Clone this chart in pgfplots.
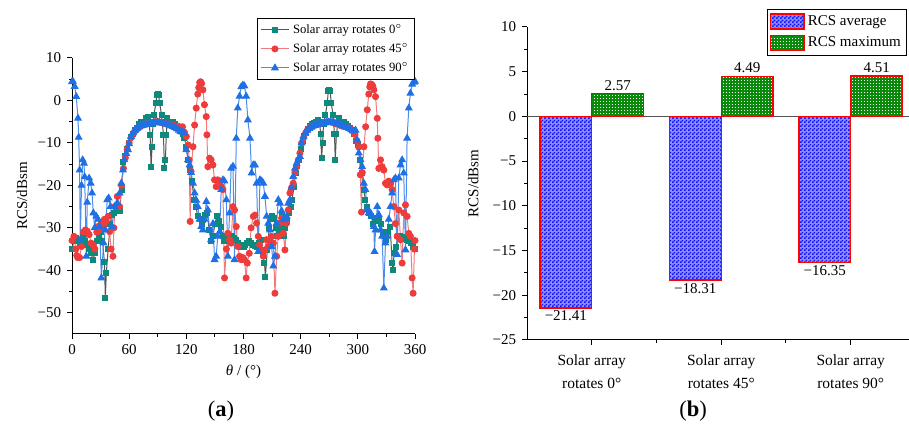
\documentclass[border=0pt]{standalone}
\usepackage{fontspec}
\setmainfont{Liberation Serif}
\usepackage{pgfplots}
\pgfplotsset{compat=1.18}
\usetikzlibrary{patterns.meta}
\definecolor{cteal}{HTML}{0E8A7D}
\definecolor{cgray}{HTML}{555555}
\definecolor{cred}{HTML}{EE3B3B}
\definecolor{credl}{HTML}{F27A7A}
\definecolor{cblue}{HTML}{1F6FE5}
\definecolor{cbluel}{HTML}{4D8CEB}
\definecolor{barblue}{HTML}{1010FF}
\definecolor{barbluebg}{HTML}{9090FF}
\definecolor{bargreen}{HTML}{0A8A0A}
\pgfdeclarepattern{
  name=checker,
  type=uncolored,
  bottom left={\pgfpoint{0pt}{0pt}},
  top right={\pgfpoint{2.4pt}{2.4pt}},
  tile size={\pgfpoint{2.4pt}{2.4pt}},
  code={
    \pgfpathrectangle{\pgfpoint{0pt}{0pt}}{\pgfpoint{1.2pt}{1.2pt}}
    \pgfpathrectangle{\pgfpoint{1.2pt}{1.2pt}}{\pgfpoint{1.2pt}{1.2pt}}
    \pgfusepath{fill}
  }
}
\pgfdeclarepattern{
  name=sqdots,
  type=uncolored,
  bottom left={\pgfpoint{0pt}{0pt}},
  top right={\pgfpoint{1.8pt}{1.8pt}},
  tile size={\pgfpoint{1.8pt}{1.8pt}},
  code={
    \pgfpathrectangle{\pgfpoint{0pt}{0pt}}{\pgfpoint{0.7pt}{0.7pt}}
    \pgfusepath{fill}
  }
}
\pgfplotsset{rectlegend/.style={legend image code/.code={\draw[##1] (0pt,-4.5pt) rectangle (20pt,4.5pt);}}}
\begin{document}
\begin{tikzpicture}
\useasboundingbox (0,0) rectangle (545.4pt,261pt);
% ---------------- (a) ----------------
\begin{axis}[
  at={(43.2pt,60.6pt)}, anchor=south west,
  scale only axis, width=205.8pt, height=165.6pt,
  xmin=0, xmax=360, ymin=-55, ymax=10,
  xtick={0,60,...,360}, minor x tick num=1,
  ytick={-50,-40,...,10}, yticklabels={−50,−40,−30,−20,−10,0,10},
  minor y tick num=1,
  axis x line*=bottom, axis y line*=left,
  axis line style={line width=0.6pt},
  tick style={line width=0.6pt, black},
  tick align=outside, major tick length=3pt, minor tick length=1.8pt,
  tick label style={font=\fontsize{9}{10}\selectfont},
  /pgf/number format/assume math mode=true,
  xlabel={\textit{θ} / (°)}, ylabel={RCS/dBsm},
  label style={font=\fontsize{9}{10}\selectfont},
  xlabel style={at={(axis description cs:0.5,-0.138)}, anchor=center},
  ylabel style={at={(axis description cs:-0.146,0.5)}, anchor=center},
  legend style={at={(1,1.145)}, anchor=north east,
    font=\fontsize{7.6}{9}\selectfont, draw=black, line width=0.6pt,
    inner sep=1.5pt, row sep=0.6pt},
  legend cell align=left,
  clip=false,
]
\addplot[cgray, line width=0.6pt, mark=square*, mark size=1.5pt,
  mark options={cteal, fill=cteal}] table {
0 -35
2 -33
4 -32.5
6 -33
8 -33.5
10 -32.8
12 -32
14 -33
16 -34
18 -35
20 -36
22 -37.5
24 -36
26 -33
28 -32
30 -31
32 -33
34 -38
35 -46.5
36 -40.7
38 -35
40 -29
42 -27
44 -26.5
46 -25.8
48 -26
50 -26
52 -21
54 -14.5
56 -13
58 -11.5
60 -10
62 -8.5
64 -7.8
66 -7
68 -6.5
70 -5.5
72 -5
74 -5.8
76 -5.5
78 -4.2
80 -4
81 -5
82 -8.1
83 -15.7
84 -10.9
85 -5.5
86 -3.4
88 -0.7
89 1.2
90 1.5
91 1.3
92 -0.7
94 -3.4
96 -8.1
97 -16
98 -14
99 -8.1
100 -4.2
102 -5
104 -5.5
106 -5
108 -5.5
110 -6.2
112 -6.5
114 -7.2
116 -8
118 -8.9
120 -10.9
122 -14
124 -16.4
126 -19
128 -23.4
130 -25
132 -27.3
134 -28
136 -29
138 -28.1
140 -27
142 -26.5
144 -30.5
146 -33.2
148 -32
150 -29
152 -27.3
154 -28.5
156 -29.7
158 -32
160 -33
162 -33.2
164 -32.5
166 -32
168 -32
170 -32.3
172 -32.8
174 -33.5
176 -34
178 -34.4
180 -34.4
182 -34
184 -33.6
186 -33.2
188 -33.5
190 -34
192 -34.2
194 -34.4
196 -33.5
198 -32.8
200 -36
202 -38.3
203 -41.5
205 -35.2
207 -30
208.5 -28
210 -27.3
212 -27.7
214 -30
215.5 -32
217 -30.5
219 -29
220.7 -27.3
222.5 -32
224 -30
226 -28.1
228 -26.5
229.5 -25
231 -23.4
233 -20.3
234.7 -17.1
236 -15.5
238 -14
240 -11.5
242 -9.5
244 -8.3
246 -7.6
248 -6.8
250 -6
252 -5.5
254 -5.2
256 -5
258 -4.5
259 -5
260 -5.5
261 -8
262 -13.6
263 -10
264 -5.5
266 -3.4
268 -0.5
269 2.2
270 2.5
271 2.2
272 -0.5
274 -3.4
275.5 -8
276.3 -14
277.5 -8
279.8 -4.2
282 -5
284 -5.3
286 -5
288 -5.5
290 -6
292 -6.5
294 -7
296 -8
298 -9.5
300 -10.5
302 -14
304 -17
306 -21
308 -23.4
310 -25
312 -26.5
314 -27.3
316 -29
318 -28.5
320 -27.7
322 -28
324 -29
326 -31
328 -32
330 -32.8
332 -31
334 -29.7
336 -38.3
337 -39.9
338 -36
340 -34.4
342 -32
344 -32
346 -32.2
348 -32.4
350 -32.6
352 -32.8
354 -33.2
356 -33.6
358 -34.4
360 -35
};
\addlegendentry{Solar array rotates 0$^{\circ}$}
\addplot[credl, line width=0.6pt, mark=*, mark size=1.8pt,
  mark options={cred, fill=cred}] table {
0 -33
2 -32
4 -35
5 -36.5
6 -37
8 -37
10 -34.4
12 -31
14 -30.5
16 -30.8
18 -31.6
20 -33.6
22 -34
24 -35
26 -31
27 -29.7
29 -30.5
31 -29
33 -29.5
34 -28
36 -28.5
38 -27.3
39.5 -30.9
41 -35
43 -36.7
44 -30
45 -25
47.5 -22.6
50 -25
52 -20
54 -16
56 -13.5
58 -11.5
60 -10
62 -8.8
64 -8
66 -7.2
68 -6.8
70 -6.3
72 -6
74 -5.8
76 -5.6
78 -5.5
80 -5.4
82 -5.3
84 -5.2
86 -5.1
88 -5
90 -5
92 -5.1
94 -5.2
96 -5.3
98 -5.4
100 -5.5
102 -5.6
104 -5.8
106 -5.8
108 -6
110 -6.2
112 -6.1
114 -6.4
116 -6.2
118 -7.5
120 -8.5
122 -10.5
123 -14
124 -28.5
125 -16.7
127 -10.9
128.7 -5.8
130.4 -1.8
132 1.5
133 3
134 4.2
135 4.4
136 4
137.4 2.5
139 -1
140.9 -3.8
141.6 -8.1
142.6 -15.6
144.4 -13.6
146 -14
147.9 -15.2
149.6 -18.7
151.3 -20.3
153 -18.7
154.9 -19
156.6 -20.3
158.4 -21
160.1 -41.8
162 -35
163.6 -31.3
165.4 -32.8
167 -33.6
168.9 -25
170.6 -25.8
172.4 -29.7
174 -34.4
175.9 -36.7
177.6 -37.5
179.4 -37
181 -37.5
182.8 -41.8
184 -38.3
186 -36
188 -30
190.3 -27.3
192 -27
193.8 -28.9
195.5 -32
197 -34
199 -35.2
200.8 -36.7
202.5 -35.2
204 -32.8
206 -34.4
208 -33
209.5 -32
211.3 -33.6
213 -45.4
214.8 -36.7
216.5 -32
218.3 -28.9
220 -27.7
221.8 -31.3
223.5 -35.2
225.3 -28.9
227 -25.8
228.7 -21.8
230.5 -20.5
232.2 -19.5
234 -17
235.7 -15.6
237.5 -14
239.2 -12.4
241 -10
243 -8.8
245 -7.8
247 -7
249 -6.5
251 -6.2
253 -6
255 -5.8
257 -5.6
259 -5.5
261 -5.4
263 -5.3
265 -5.2
267 -5.1
269 -5
271 -5
273 -5.1
275 -5.3
277 -5.5
279 -5.6
281 -5.8
283 -6
285 -6.1
287 -6.2
289 -6.3
291 -6.5
293 -6.8
295 -7.2
297 -8
299 -9.5
301 -11
302.6 -17.5
303.8 -26.3
304.7 -17
306.4 -10.9
308.2 -6.2
309.9 -2.2
311.5 1.5
312.5 3.2
313.4 3.9
314.5 3.8
315.7 3.4
316.9 2.5
318.6 0.9
320.4 -4.2
321 -8.9
322 -16
323.8 -14
325.5 -15.6
327.3 -16.4
329 -19.5
330.8 -19.9
332.5 -19
334.3 -19.5
336 -21
337.8 -25
339.5 -29
341.2 -32
343 -25.8
344.8 -32.8
346.5 -38.3
348.2 -26.5
350 -24.6
351.7 -27.3
353.5 -31.3
355.2 -32
357 -41.8
358 -45.4
359.4 -35
360 -33
};
\addlegendentry{Solar array rotates 45$^{\circ}$}
\addplot[cbluel, line width=0.6pt, mark=triangle*, mark size=2.2pt,
  mark options={cblue, fill=cblue}] table {
0 4.4
1 4.5
2.8 3.3
4.5 0.9
6.3 -4.2
7 -8.7
8 -16.4
8.7 -32.8
10 -20
11.2 -14
12.6 -14.8
13.3 -18
15 -36.7
16 -24
18 -18.3
19.6 -19.5
21 -21.8
22.4 -26.5
23.8 -30
25.5 -27.3
27.3 -28
29 -29.7
30.8 -41.8
33.2 -33.6
35 -30.5
37 -23.4
38.5 -23
40.5 -25
42 -29.7
44.7 -25
47.5 -24.2
50 -21.8
51.7 -19.5
53.5 -16.4
55 -14
57 -12.5
58.7 -11.6
60 -10.2
62 -8.5
64 -7.6
66 -7
68 -6.6
70 -6.3
72 -6
74 -5.9
76 -5.8
78 -5.7
80 -5.6
82 -5.5
84 -5.4
86 -5.3
88 -5.2
90 -5.1
92 -5.2
94 -5.3
96 -5.4
98 -5.5
100 -5.6
102 -5.8
104 -6
106 -6.2
108 -6.4
110 -6.7
112 -7
114 -7.3
116 -7.5
118 -7.7
120 -11.6
121.7 -14
123.4 -15.2
125 -17
127 -19.5
128.7 -21.8
130.4 -23.5
132 -25
133.9 -28
135.7 -29.7
137.4 -30.5
139 -28
141 -23.8
142.6 -25.8
144.4 -30.5
146 -32.8
148 -29
149.6 -37.5
151.3 -36.7
153 -32
155 -30.9
156.6 -21
158.4 -18.7
160 -19
162 -23.4
163.6 -36.7
165.4 -26.5
167 -16
169 -15.5
170.6 -37.5
172.4 -8.9
174 -1.8
175.9 1
177.6 3.2
179.4 3.6
181 3.4
182.8 1
184.6 -4.6
186.8 -8.9
188.5 -17.1
190.3 -15.2
192 -15.2
193.8 -19.5
195.5 -35.6
197.3 -18.7
199 -19
200.8 -19.5
202.5 -22.6
204.3 -27.3
206 -28.9
207.8 -30.5
209.5 -34.4
211.3 -39
213 -36.7
214.8 -28.9
216.5 -23.4
218.3 -24.2
220 -26
221.8 -28.1
223.5 -27.8
225.3 -27.3
227 -24.2
228.7 -23.4
230.5 -20.5
232.2 -17.9
234 -16
235.7 -14.8
237.5 -14
239.2 -13.2
241 -10
243 -8.5
245 -7.6
247 -7
249 -6.6
251 -6.3
253 -6
255 -5.9
257 -5.8
259 -5.6
261 -5.5
263 -5.4
265 -5.3
267 -5.2
269 -5.1
271 -5.1
273 -5.2
275 -5.3
277 -5.4
279 -5.5
281 -5.6
283 -5.8
285 -6
287 -6.2
289 -6.4
291 -6.6
293 -6.9
295 -7.2
297.6 -7
299.3 -9.3
301 -12.4
302.8 -14
304.5 -15.6
306.3 -19.5
308 -21
309.8 -25.8
311.5 -26.5
313.3 -26.5
315 -27.3
316.8 -29.7
317.5 -35.6
318.6 -30.5
320.4 -25
322 -26.9
323.8 -30.5
325.5 -32
327.3 -44.2
329 -33.6
330.8 -32
332.5 -28
334.3 -25
336 -21.8
337.8 -18.7
339.5 -18.3
341.2 -36.3
343 -18.3
344.8 -15.2
346.5 -14
348.2 -17.1
350 -35.2
351.7 -8.9
353.5 -1.8
355.2 1.7
357 3.8
358.7 4.3
360 4.5
};
\addlegendentry{Solar array rotates 90$^{\circ}$}
\end{axis}
% ---------------- (b) ----------------
\begin{axis}[
  at={(316.2pt,57pt)}, anchor=south west,
  scale only axis, width=229.2pt, height=187.8pt,
  ybar=0pt, bar width=0.4,
  xmin=0.5, xmax=3.45, ymin=-25, ymax=10,
  xtick={1,2,3},
  xticklabels={{Solar array\\rotates 0°},{Solar array\\rotates 45°},{Solar array\\rotates 90°}},
  minor xtick={1.5,2.5},
  ytick={-25,-20,...,10}, yticklabels={−25,−20,−15,−10,−5,0,5,10},
  minor y tick num=1,
  axis x line*=bottom, axis y line*=left,
  axis line style={line width=0.6pt},
  tick style={line width=0.6pt, black},
  tick align=outside, major tick length=3pt, minor tick length=1.8pt,
  tick label style={font=\fontsize{9}{10}\selectfont},
  xticklabel style={align=center, font=\fontsize{9.3}{13.8}\selectfont, yshift=-2.2pt},
  ylabel={RCS/dBsm},
  label style={font=\fontsize{9}{10}\selectfont},
  ylabel style={at={(axis description cs:-0.141,0.5)}, anchor=center},
  extra y ticks={0}, extra y tick labels={},
  extra y tick style={grid=major, major grid style={cgray, line width=0.6pt}, major tick length=0pt},
  point meta=explicit symbolic,
  nodes near coords,
  nodes near coords style={font=\fontsize{9}{10}\selectfont, text=black, inner sep=1.5pt},
  legend style={at={(0.995,1.0575)}, anchor=north east,
    font=\fontsize{9}{11}\selectfont, draw=black, line width=0.6pt,
    inner sep=1.5pt, row sep=1.5pt},
  legend cell align=left,
]
\addplot[draw=red, line width=0.8pt, fill=barbluebg,
  postaction={pattern=checker, pattern color=barblue}, rectlegend,
  every node near coord/.append style={anchor=north}]
  coordinates {(1,-21.41) [−21.41] (2,-18.31) [−18.31] (3,-16.35) [−16.35]};
\addlegendentry{RCS average}
\addplot[draw=red, line width=0.8pt, fill=bargreen,
  postaction={pattern=sqdots, pattern color=white}, rectlegend,
  every node near coord/.append style={anchor=south}]
  coordinates {(1,2.57) [2.57] (2,4.49) [4.49] (3,4.51) [4.51]};
\addlegendentry{RCS maximum}
\end{axis}
\node[font=\fontsize{13.5}{14}\selectfont] at (132.6pt,14.4pt) {(\textbf{a})};
\node[font=\fontsize{13.5}{14}\selectfont] at (415.8pt,14.4pt) {(\textbf{b})};
\end{tikzpicture}
\end{document}
